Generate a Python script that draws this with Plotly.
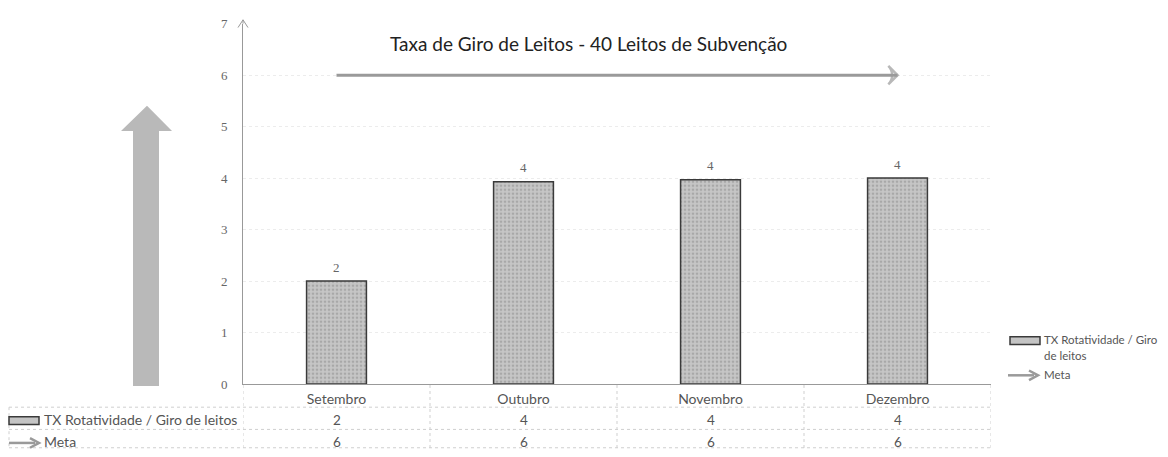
import plotly.graph_objects as go

# ---- data ----
categories = ["Setembro", "Outubro", "Novembro", "Dezembro"]
giro_values = [2.0, 3.93, 3.97, 4.0]
meta_values = [6, 6, 6, 6]
series_bar_name = "TX Rotatividade / Giro de leitos"
series_meta_name = "Meta"
legend_bar_lines = ["TX Rotatividade / Giro", "de leitos"]
title_text = "Taxa de Giro de Leitos - 40 Leitos de Subvenção"
y_ticks = [0, 1, 2, 3, 4, 5, 6, 7]

# page body has an 8px default margin: size figure so the page is exactly the window
OFF = 8
W, H = 1168 - 2 * OFF, 457 - 2 * OFF


def px(x):
    return (x - OFF) / W


def py(y):
    return 1 - (y - OFF) / H


GRAY_TXT = "#555555"
FONT = "Lato"
SERIF = "Liberation Serif"

fig = go.Figure()

fig.add_trace(go.Bar(
    x=categories, y=giro_values, name=series_bar_name,
    marker=dict(color="#c2c2c2",
                line=dict(color="#3a3a3a", width=1.5),
                pattern=dict(shape=".", fgcolor="#8a8a8a", bgcolor="#c6c6c6",
                             size=4, solidity=0.35)),
    showlegend=False,
))

n = len(meta_values)
fig.add_trace(go.Scatter(
    x=categories, y=meta_values, name=series_meta_name, mode="lines+markers",
    line=dict(color="#9a9a9a", width=3),
    marker=dict(symbol=["circle"] * (n - 1) + ["arrow-wide-open"],
                size=[0] * (n - 1) + [13], angleref="previous",
                color="#9a9a9a", line=dict(width=2.5, color="#9a9a9a")),
    cliponaxis=False, showlegend=False,
))

shapes = []
annotations = []


def txt(x, y, text, size, color=GRAY_TXT, family=FONT, xanchor="left", xref="paper"):
    annotations.append(dict(xref=xref, yref="paper", x=x, y=y, text=text, showarrow=False,
                            xanchor=xanchor, yanchor="middle",
                            font=dict(family=family, size=size, color=color)))


# bar value labels
for c, g in zip(categories, giro_values):
    annotations.append(dict(xref="x", yref="y", x=c, y=g, yshift=14, text=f"{g:.0f}",
                            showarrow=False, yanchor="middle",
                            font=dict(family=SERIF, size=13, color="#666666")))

# big decorative up arrow on the left
arrow_path = (f"M {px(133)},{py(392)} L {px(133)},{py(128)} L {px(121)},{py(128)} "
              f"L {px(147)},{py(102)} L {px(172)},{py(128)} L {px(159)},{py(128)} "
              f"L {px(159)},{py(392)} Z")
shapes.append(dict(type="path", xref="paper", yref="paper", path=arrow_path,
                   fillcolor="#b9b9b9", line=dict(width=0), layer="below"))

# y axis top arrow
shapes.append(dict(type="line", xref="paper", yref="paper", x0=px(243), x1=px(243),
                   y0=py(17), y1=py(13), line=dict(color="#999999", width=1)))
shapes.append(dict(type="path", xref="paper", yref="paper",
                   path=f"M {px(238)},{py(21)} L {px(243)},{py(13)} L {px(248)},{py(21)}",
                   line=dict(color="#999999", width=1)))

# data table grid
TBL = "#cfcfcf"
for yy in (414, 437, 456):
    shapes.append(dict(type="line", xref="paper", yref="paper", x0=px(9), x1=px(991),
                       y0=py(yy), y1=py(yy), line=dict(color=TBL, width=1, dash="dot")))
shapes.append(dict(type="line", xref="paper", yref="paper", x0=px(9), x1=px(9),
                   y0=py(414), y1=py(457), line=dict(color=TBL, width=1, dash="dot")))
for i in range(len(categories) + 1):
    shapes.append(dict(type="line", xref="x", yref="paper", x0=i - 0.5, x1=i - 0.5,
                       y0=py(391), y1=py(457), line=dict(color=TBL, width=1, dash="dot")))

# table values
for c, g, m in zip(categories, giro_values, meta_values):
    txt(c, py(427), f"{g:.0f}", 13.5, xanchor="center", xref="x")
    txt(c, py(450), f"{m:.0f}", 13.5, xanchor="center", xref="x")


def bar_key(x0, yc):
    shapes.append(dict(type="rect", xref="paper", yref="paper", x0=px(x0), x1=px(x0 + 30),
                       y0=py(yc + 4), y1=py(yc - 4), fillcolor="#c4c4c4",
                       line=dict(color="#3a3a3a", width=1.5)))


def meta_key(x0, yc):
    shapes.append(dict(type="line", xref="paper", yref="paper", x0=px(x0), x1=px(x0 + 26),
                       y0=py(yc), y1=py(yc), line=dict(color="#9a9a9a", width=2.5)))
    shapes.append(dict(type="path", xref="paper", yref="paper",
                       path=f"M {px(x0 + 21)},{py(yc - 5)} L {px(x0 + 30)},{py(yc)} L {px(x0 + 21)},{py(yc + 5)}",
                       line=dict(color="#9a9a9a", width=2.5)))


# table row headers
bar_key(9, 428)
txt(px(42), py(427), series_bar_name, 14)
meta_key(9, 451)
txt(px(42), py(450), series_meta_name, 14)

# right legend
bar_key(1010, 345)
txt(px(1042), py(344), legend_bar_lines[0], 11.5)
txt(px(1042), py(361), legend_bar_lines[1], 11.5)
meta_key(1008, 381)
txt(px(1042), py(380), series_meta_name, 11.5)

# title
txt(px(588), py(37), title_text, 19, color="#222222", xanchor="center")

fig.update_layout(
    width=W, height=H, margin=dict(l=0, r=0, t=0, b=0),
    paper_bgcolor="white", plot_bgcolor="white",
    bargap=0.68, shapes=shapes, annotations=annotations,
    font=dict(family=FONT, color=GRAY_TXT),
    xaxis=dict(domain=[px(243), px(991)], range=[-0.5, 3.5], type="category",
               categoryorder="array", categoryarray=categories,
               showline=True, linecolor="#999999", linewidth=1,
               showgrid=False, ticks="", ticklabelstandoff=2,
               tickfont=dict(family=FONT, size=14, color=GRAY_TXT)),
    yaxis=dict(domain=[py(390), py(17)], range=[0, 7], tickvals=y_ticks,
               showline=True, linecolor="#999999", linewidth=1,
               showgrid=True, gridcolor="#ececec", griddash="dot", gridwidth=1,
               zeroline=False, ticks="", ticklabelstandoff=12,
               tickfont=dict(family=SERIF, size=13, color="#666666")),
)

fig.write_html("out.html")
